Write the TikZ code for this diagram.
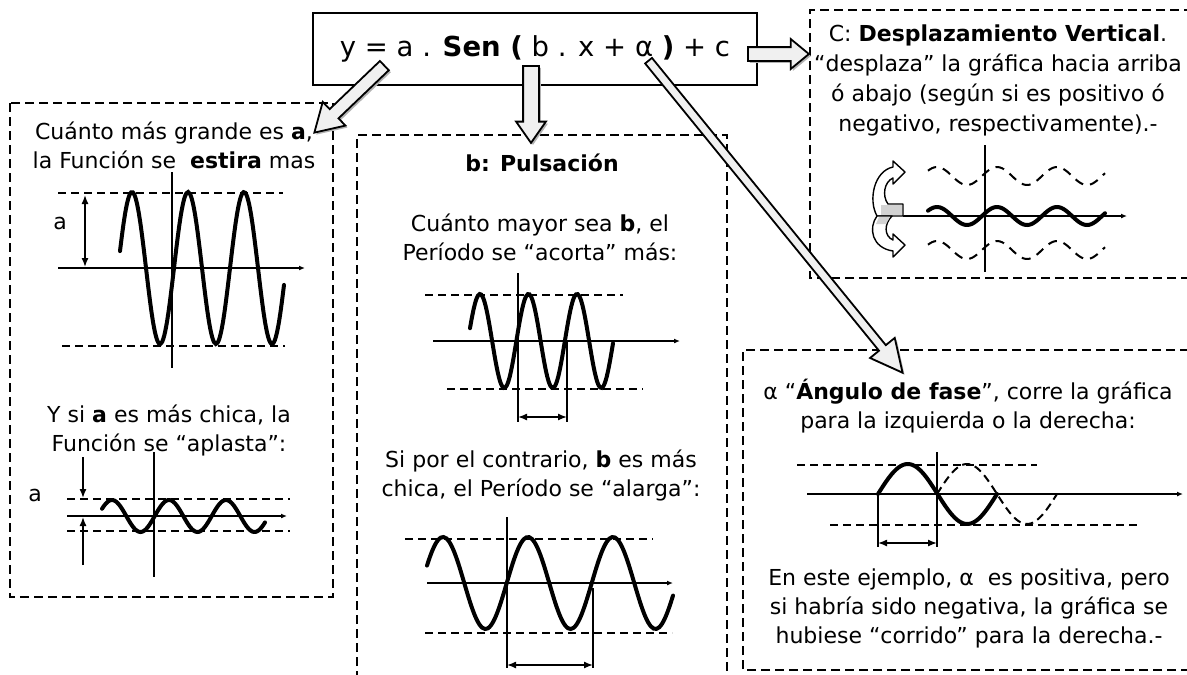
\documentclass[tikz,border=0pt]{standalone}
\usepackage{fontspec}
\setmainfont{DejaVu Sans}
\usetikzlibrary{arrows.meta,positioning,calc,shapes.arrows,shadows}
\tikzset{
 caja/.style={line width=2.5pt,dash pattern=on 9pt off 5pt},
 eje/.style={line width=1.4pt,-{Latex[length=6pt,width=5pt]}},
 linea/.style={line width=1.4pt},
 guia/.style={line width=1.8pt,dash pattern=on 8pt off 5pt},
 onda/.style={line width=4pt,line cap=round,smooth},
 cota/.style={line width=1.4pt,{Latex[length=9pt,width=7pt]}-{Latex[length=9pt,width=7pt]}},
 bloque/.style={single arrow,draw,line width=1.8pt,fill=gray!12,inner xsep=0pt,
   drop shadow={shadow xshift=2pt,shadow yshift=-2pt,fill=gray!60,opacity=1}},
 curva/.style={line width=1.4pt,fill=white,line join=round},
}
\newcommand\flecha[5]{\path let \p1=($(#2)-(#1)$),\n1={veclen(\x1,\y1)},\n2={atan2(\y1,\x1)} in
  node[bloque,inner ysep=#3,single arrow head extend=#4,single arrow tip angle=#5,
  minimum height=\n1,rotate=\n2,anchor=tail] at (#1) {};}

\begin{document}
\begin{tikzpicture}[>=Latex,x=1pt,y=-1pt,font=\fontsize{22}{29}\selectfont]
\useasboundingbox[fill=white] (0,0) rectangle (1187,675);
\draw[caja] (10,103) rectangle (333,597);
\draw[caja] (357,680) -- (357,135) -- (727,135) -- (727,680);
\draw[caja] (1190,278) -- (810,278) -- (810,10) -- (1190,10);
\draw[caja] (1190,670) -- (743,670) -- (743,350) -- (1190,350);

\node[draw,fill=white,line width=1.8pt,minimum width=444pt,minimum height=72pt,font=\fontsize{27.5}{30}\selectfont] (formula) at (535,49)
 {y = a . \textbf{Sen (} b . x + α \textbf{)} + c};

\node[align=center] (ta1) at (174,145) {Cuánto más grande es \textbf{a},\\la Función se~ \textbf{estira} mas};
\node (la1) at (60,223) {a};
\draw[guia] (58,193) -- (283,193);
\draw[guia] (62,346) -- (285,346);
\draw[eje] (58,268) -- (305,268);
\draw[linea] (172,172) -- (172,368);
\draw[onda] plot[domain=120:284,samples=90] (\x,{268-76*cos((\x-132)/56*360)});
\draw[cota] (85,195) -- (85,267);

\node[align=center] (ta2) at (169,430) {Y si \textbf{a} es más chica, la\\Función se “aplasta”:};
\node (la2) at (35,495) {a};
\draw[guia] (67,499) -- (290,499);
\draw[guia] (67,531) -- (290,531);
\draw[eje] (67,516) -- (287,516);
\draw[linea] (154,452) -- (154,577);
\draw[onda] plot[domain=102:265,samples=90] (\x,{516-16*cos((\x-112)/57*360)});
\draw[linea,-{Latex[length=9pt,width=7pt]}] (83,457) -- (83,498);
\draw[linea,-{Latex[length=9pt,width=7pt]}] (83,565) -- (83,517);

\node (tb0) at (542,163) {\textbf{b: Pulsación}};
\node[align=center] (tb1) at (540,237) {Cuánto mayor sea \textbf{b}, el\\Período se “acorta” más:};
\draw[guia] (425,295) -- (623,295);
\draw[guia] (447,389) -- (643,389);
\draw[eje] (433,341) -- (680,341);
\draw[linea] (518,273) -- (518,422);
\draw[linea] (567,341) -- (567,422);
\draw[onda] plot[domain=470:613,samples=90] (\x,{341-47*cos((\x-480)/48.5*360)});
\draw[cota] (518,417) -- (567,417);

\node[align=center] (tb2) at (541,475) {Si por el contrario, \textbf{b} es más\\chica, el Período se “alarga”:};
\draw[guia] (405,539) -- (653,539);
\draw[guia] (425,633) -- (672,633);
\draw[eje] (427,583) -- (673,583);
\draw[linea] (507,517) -- (507,668);
\draw[linea] (593,588) -- (593,668);
\draw[onda] plot[domain=427:673,samples=90] (\x,{583-46*cos((\x-443)/85*360)});
\draw[cota] (507,665) -- (593,665);

\node[align=center,font=\fontsize{22}{30}\selectfont] (tc) at (998,80) {C: \textbf{Desplazamiento Vertical}.\\“desplaza” la gráfica hacia arriba\\ó abajo (según si es positivo ó\\negativo, respectivamente).-};
\draw[eje] (903,216) -- (1127,216);
\draw[linea] (985,145) -- (985,272);
\draw[onda] plot[domain=928:1105,samples=90] (\x,{216-9*cos((\x-937)/60*360)});
\draw[guia,line width=2pt,dash pattern=on 9pt off 7pt] plot[domain=928:1105,samples=90] (\x,{176-9*cos((\x-937)/60*360)});
\draw[guia,line width=2pt,dash pattern=on 9pt off 7pt] plot[domain=928:1105,samples=90] (\x,{250-9*cos((\x-937)/60*360)});
\draw[curva] (903,216) -- (903,204) -- (888,204) .. controls (882,196) and (884,182) .. (893,178) -- (893,184) -- (905,172) -- (893,161) -- (893,167) .. controls (874,171) and (868,200) .. (877,216) -- cycle;
\fill[gray!35] (881,205) rectangle (902,215);
\draw[curva] (877,216) -- (892,216) .. controls (884,224) and (884,236) .. (893,240) -- (893,234) -- (905,245) -- (893,257) -- (893,251) .. controls (872,248) and (868,228) .. (877,216) -- cycle;
\fill[gray!35] (879,217) -- (890,217) -- (886,224) -- (876,224) -- cycle;

\node[align=center] (td1) at (968,406) {α “\textbf{Ángulo de fase}”, corre la gráfica\\para la izquierda o la derecha:};
\draw[guia] (797,465) -- (1037,465);
\draw[guia] (830,525) -- (1138,525);
\draw[eje] (807,494) -- (1183,494);
\draw[linea] (937,452) -- (937,547);
\draw[linea] (878,494) -- (878,547);
\draw[onda] plot[domain=878:997,samples=60] (\x,{494-30*sin((\x-878)/119*360)});
\draw[guia,line width=2pt] plot[domain=937:1057,samples=60] (\x,{494-30*sin((\x-937)/120*360)});
\draw[cota] (878,543) -- (937,543);
\node[align=center] (td2) at (969,608) {En este ejemplo, α~ es positiva, pero\\si habría sido negativa, la gráfica se\\hubiese “corrido” para la derecha.-};

\coordinate (pa) at (385,65);
\coordinate (ka) at (315,132);
\coordinate (pb) at (531,65);
\coordinate (kb) at (531,142);
\coordinate (pc) at (747,54);
\coordinate (kc) at (808,54);
\coordinate (pd) at (648,60);
\coordinate (kd) at (902,372);
\flecha{pa}{ka}{5.5pt}{10pt}{62}
\flecha{pb}{kb}{7pt}{7pt}{70}
\flecha{pc}{kc}{6pt}{8pt}{79}
\flecha{pd}{kd}{3.5pt}{11.5pt}{53}
\end{tikzpicture}
\end{document}
